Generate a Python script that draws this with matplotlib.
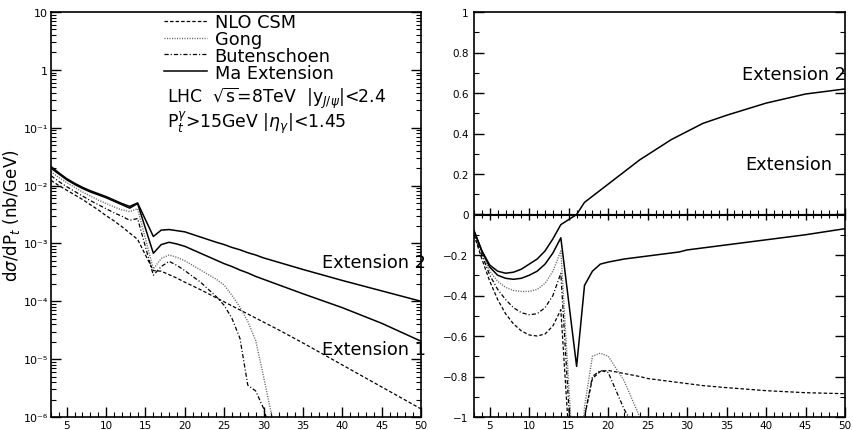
import matplotlib
matplotlib.use('Agg')
import matplotlib.pyplot as plt
import numpy as np
from matplotlib.ticker import MultipleLocator, LogLocator, FuncFormatter, NullFormatter

plt.rcParams['font.family'] = ['DejaVu Sans']
plt.rcParams['mathtext.fontset'] = 'dejavusans'
plt.rcParams['lines.scale_dashes'] = False

# P_t values (GeV) shared by all curves
pt = [3, 4, 5, 6, 7, 8, 9, 10, 11, 12, 13, 14, 16, 17, 18, 19, 20, 22, 24, 25, 26,
      27, 28, 29, 30, 31, 32, 35, 40, 45, 50]

# left panel: log10 of dsigma/dPt (nb/GeV)
log_ext2 = [-1.67, -1.78, -1.88, -1.96, -2.03, -2.09, -2.14, -2.19, -2.25, -2.31, -2.36, -2.30,
            -2.88, -2.77, -2.76, -2.78, -2.80, -2.89, -2.98, -3.02, -3.07, -3.11, -3.16, -3.20,
            -3.25, -3.29, -3.33, -3.45, -3.64, -3.82, -4.00]
log_ext1 = [-1.70, -1.80, -1.90, -1.98, -2.05, -2.11, -2.16, -2.21, -2.27, -2.33, -2.39, -2.31,
            -3.17, -3.02, -2.98, -3.01, -3.05, -3.17, -3.29, -3.35, -3.40, -3.46, -3.51, -3.57,
            -3.62, -3.67, -3.72, -3.87, -4.11, -4.38, -4.69]
log_nlo = [-1.91, -2.00, -2.08, -2.16, -2.24, -2.33, -2.42, -2.52, -2.61, -2.71, -2.82, -2.93,
           -3.47, -3.48, -3.54, -3.60, -3.67, -3.80, -3.94, -4.01, -4.08, -4.15, -4.22, -4.29,
           -4.36, -4.43, -4.50, -4.72, -5.10, -5.48, -5.86]
log_gong = [-1.76, -1.86, -1.95, -2.03, -2.11, -2.18, -2.25, -2.31, -2.37, -2.42, -2.45, -2.40,
            -3.44, -3.26, -3.20, -3.24, -3.30, -3.46, -3.62, -3.72, -3.90, -4.10, -4.35, -4.68,
            -5.30, -5.95, -6.60, np.nan, np.nan, np.nan, np.nan]
log_buten = [-1.83, -1.93, -2.02, -2.10, -2.18, -2.26, -2.33, -2.40, -2.47, -2.53, -2.60, -2.57,
             -3.55, -3.40, -3.31, -3.38, -3.47, -3.67, -3.92, -4.07, -4.30, -4.64, -5.45, -5.55,
             -5.85, -6.30, -6.80, np.nan, np.nan, np.nan, np.nan]

# right panel: relative deviation
r_ext2 = [-0.08, -0.18, -0.25, -0.28, -0.29, -0.285, -0.27, -0.245, -0.22, -0.18, -0.12, -0.05,
          0.0, 0.06, 0.09, 0.12, 0.15, 0.21, 0.27, 0.295, 0.32, 0.345, 0.37, 0.39, 0.41, 0.43,
          0.45, 0.49, 0.55, 0.595, 0.62]
r_ext1 = [-0.08, -0.18, -0.26, -0.30, -0.315, -0.32, -0.315, -0.30, -0.28, -0.245, -0.19, -0.115,
          -0.75, -0.35, -0.28, -0.245, -0.235, -0.22, -0.21, -0.205, -0.20, -0.195, -0.19, -0.185,
          -0.175, -0.17, -0.165, -0.15, -0.125, -0.10, -0.07]
r_nlo = [-0.10, -0.22, -0.33, -0.42, -0.49, -0.54, -0.575, -0.595, -0.60, -0.59, -0.55, -0.47,
         -1.7, -1.0, -0.81, -0.775, -0.77, -0.785, -0.80, -0.81, -0.815, -0.82, -0.825, -0.83,
         -0.835, -0.84, -0.845, -0.855, -0.87, -0.88, -0.885]
r_gong = [-0.09, -0.19, -0.28, -0.33, -0.36, -0.375, -0.38, -0.38, -0.37, -0.34, -0.28, -0.18,
          -1.5, -0.95, -0.70, -0.685, -0.70, -0.82, -1.0, -1.1, np.nan, np.nan, np.nan, np.nan,
          np.nan, np.nan, np.nan, np.nan, np.nan, np.nan, np.nan]
r_buten = [-0.10, -0.20, -0.30, -0.37, -0.42, -0.46, -0.485, -0.495, -0.49, -0.46, -0.40, -0.29,
           -1.6, -1.0, -0.80, -0.77, -0.78, -0.96, -1.1, np.nan, np.nan, np.nan, np.nan, np.nan,
           np.nan, np.nan, np.nan, np.nan, np.nan, np.nan, np.nan]

y_ticks_log = [1e-6, 1e-5, 1e-4, 1e-3, 1e-2, 1e-1, 1, 10]

# line styles
st_nlo = dict(color='black', lw=0.9, ls=(0, (2.5, 1.5)))
st_gong = dict(color='#666666', lw=1.0, ls=(0, (0.8, 1.0)))
st_buten = dict(color='black', lw=0.9, ls=(0, (3, 1.5, 0.8, 1.5)))
st_ext = dict(color='black', lw=1.1, ls='-')

SUP = str.maketrans('-0123456789', '\u207b\u2070\u00b9\u00b2\u00b3\u2074\u2075\u2076\u2077\u2078\u2079')

def log_label(v, pos):
    if v == 10:
        return '10'
    if v == 1:
        return '1'
    return '10' + str(int(round(np.log10(v)))).translate(SUP)

def lin_label(v, pos):
    if abs(v) < 1e-9:
        return '0'
    if abs(abs(v) - 1) < 1e-9:
        return ('%d' % round(v)).replace('-', '\u2212')
    return ('%.1f' % v).replace('-', '\u2212')

def style_axes(ax):
    for s in ax.spines.values():
        s.set_linewidth(1.2)
    ax.tick_params(which='both', direction='in', left=True, right=True, top=False,
                   bottom=True, labelsize=7.5)
    ax.tick_params(which='major', length=7, width=1.0)
    ax.tick_params(which='minor', length=3.5, width=0.8)
    ax.tick_params(axis='y', pad=4)
    ax.tick_params(axis='x', pad=2)
    ax.set_xlim(3, 50)
    ax.xaxis.set_major_locator(MultipleLocator(5))
    ax.xaxis.set_minor_locator(MultipleLocator(1))

fig = plt.figure(figsize=(8.54, 4.31), dpi=100)
ax1 = fig.add_axes([51 / 854, 13 / 431, 370 / 854, 405 / 431])
ax2 = fig.add_axes([474 / 854, 13 / 431, 371 / 854, 405 / 431])

# left panel: cross sections
x = np.array(pt)
ax1.plot(x, 10 ** np.array(log_nlo), label='NLO CSM', **st_nlo)
ax1.plot(x, 10 ** np.array(log_gong), label='Gong', **st_gong)
ax1.plot(x, 10 ** np.array(log_buten), label='Butenschoen', **st_buten)
ax1.plot(x, 10 ** np.array(log_ext2), label='Ma Extension', **st_ext)
ax1.plot(x, 10 ** np.array(log_ext1), **st_ext)
ax1.set_yscale('log')
ax1.set_ylim(1e-6, 10)
style_axes(ax1)
ax1.tick_params(axis='y', pad=2, labelsize=8)
ax1.set_yticks(y_ticks_log)
ax1.yaxis.set_major_formatter(FuncFormatter(log_label))
ax1.yaxis.set_minor_locator(LogLocator(base=10, subs=np.arange(2, 10)))
ax1.yaxis.set_minor_formatter(NullFormatter())
ax1.set_ylabel(r'd$\sigma$/dP$_t$ (nb/GeV)', fontsize=12, labelpad=0)
ax1.yaxis.set_label_coords(-0.078, 0.5)

ax1.legend(loc='upper left', bbox_to_anchor=(0.305, 0.998), frameon=False, fontsize=12.8,
           handlelength=2.4, handletextpad=0.45, labelspacing=-0.06, borderpad=0,
           borderaxespad=0)
ax1.text(0.313, 0.79, r'LHC  $\sqrt{\rm s}$=8TeV  |y$_{J/\psi}$|<2.4', transform=ax1.transAxes,
         fontsize=12.4, va='center', ha='left')
ax1.text(0.313, 0.728, r'P$_t^\gamma$>15GeV |$\eta_\gamma$|<1.45', transform=ax1.transAxes,
         fontsize=12.4, va='center', ha='left')
ax1.text(0.732, 0.383, 'Extension 2', transform=ax1.transAxes, fontsize=12.8, va='center')
ax1.text(0.732, 0.168, 'Extension 1', transform=ax1.transAxes, fontsize=12.8, va='center')

# right panel: relative deviations
ax2.plot(x, r_nlo, **st_nlo)
ax2.plot(x, r_gong, **st_gong)
ax2.plot(x, r_buten, **st_buten)
ax2.plot(x, r_ext2, **st_ext)
ax2.plot(x, r_ext1, **st_ext)
ax2.set_ylim(-1, 1)
style_axes(ax2)
ax2.yaxis.set_major_locator(MultipleLocator(0.2))
ax2.yaxis.set_minor_locator(MultipleLocator(0.1))
ax2.yaxis.set_major_formatter(FuncFormatter(lin_label))

# zero line with its own ticks
ax2.axhline(0, color='black', lw=1.5)
zero_axis = ax2.secondary_xaxis(0.5)
zero_axis.xaxis.set_major_locator(MultipleLocator(5))
zero_axis.xaxis.set_minor_locator(MultipleLocator(1))
zero_axis.xaxis.set_major_formatter(NullFormatter())
zero_axis.tick_params(which='major', direction='inout', length=9, width=1.0,
                      labelbottom=False, labeltop=False)
zero_axis.tick_params(which='minor', direction='inout', length=6, width=0.8)

ax2.text(0.722, 0.847, 'Extension 2', transform=ax2.transAxes, fontsize=12.8, va='center')
ax2.text(0.73, 0.625, 'Extension', transform=ax2.transAxes, fontsize=12.8, va='center')

fig.savefig('out.png', dpi=100)
